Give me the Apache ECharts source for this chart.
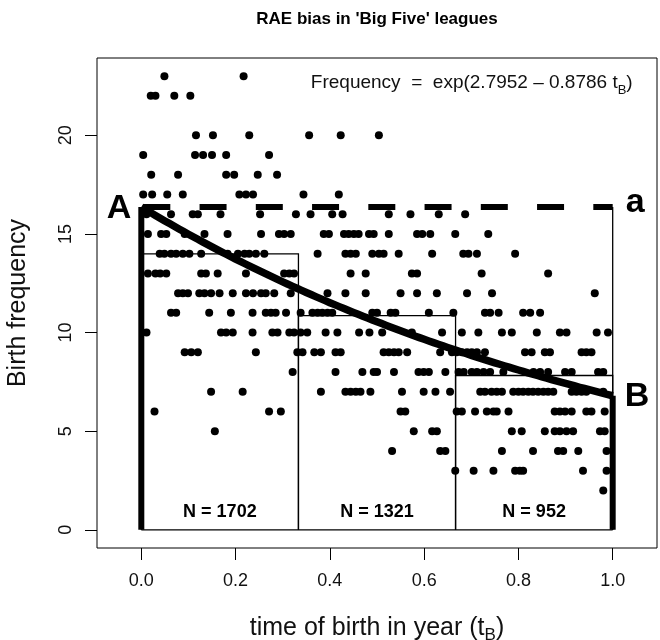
<!DOCTYPE html>
<html><head><meta charset="utf-8">
<script src="https://cdn.jsdelivr.net/npm/echarts@6/dist/echarts.min.js"></script>
<style>html,body{margin:0;padding:0;background:#fff}#c{width:660px;height:640px}</style>
</head><body><div id="c"></div>
<script>
const FONT = "'Liberation Sans', Arial, Helvetica, sans-serif";

// fitted model shown in the chart: Frequency = exp(2.7952 - 0.8786 tB)
const fitIntercept = 2.7952;
const fitSlope = -0.8786;

// thirds of the year and their birth counts
const binEdges = [0, 1/3, 2/3, 1];
const binCounts = [1702, 1321, 952];
const binLabels = ['N = 1702', 'N = 1321', 'N = 952'];
const daysPerBin = 365 / 3;

// axis ticks
const xTicks = [0, 0.2, 0.4, 0.6, 0.8, 1.0];
const yTicks = [0, 5, 10, 15, 20];

// daily birth frequencies: time of birth (tB) for each frequency level
const pts23 = [0.049, 0.217];
const pts22 = [0.020, 0.030, 0.070, 0.104];
const pts20 = [0.116, 0.152, 0.229, 0.356, 0.423, 0.504];
const pts19 = [0.004, 0.114, 0.131, 0.150, 0.180, 0.271];
const pts18 = [0.021, 0.078, 0.180, 0.197, 0.247, 0.288];
const pts17 = [0.004, 0.023, 0.055, 0.088, 0.208, 0.222, 0.237, 0.344, 0.419];
const pts16 = [0.011, 0.063, 0.109, 0.120, 0.168, 0.252, 0.328, 0.359, 0.405, 0.427, 0.525, 0.571, 0.631, 0.687];
const pts15 = [0.014, 0.042, 0.053, 0.092, 0.134, 0.183, 0.254, 0.292, 0.303, 0.317, 0.387, 0.398, 0.430, 0.440, 0.451, 0.461, 0.483, 0.493, 0.525, 0.585, 0.596, 0.613, 0.666, 0.736];
const pts14 = [0.039, 0.049, 0.063, 0.074, 0.088, 0.102, 0.127, 0.183, 0.205, 0.219, 0.229, 0.243, 0.261, 0.374, 0.433, 0.444, 0.455, 0.490, 0.504, 0.514, 0.546, 0.617, 0.683, 0.694, 0.712, 0.793];
const pts13 = [0.014, 0.030, 0.040, 0.053, 0.127, 0.137, 0.162, 0.222, 0.303, 0.314, 0.324, 0.444, 0.476, 0.574, 0.585, 0.722, 0.863];
const pts12 = [0.078, 0.088, 0.099, 0.123, 0.134, 0.148, 0.166, 0.194, 0.222, 0.237, 0.254, 0.264, 0.282, 0.317, 0.395, 0.433, 0.476, 0.550, 0.585, 0.627, 0.691, 0.744, 0.962];
const pts11 = [0.063, 0.074, 0.144, 0.190, 0.236, 0.264, 0.275, 0.285, 0.307, 0.338, 0.363, 0.374, 0.384, 0.395, 0.405, 0.490, 0.500, 0.529, 0.539, 0.610, 0.662, 0.729, 0.740, 0.758, 0.810, 0.825, 0.846];
const pts10 = [0.011, 0.169, 0.180, 0.194, 0.236, 0.278, 0.289, 0.314, 0.324, 0.338, 0.352, 0.391, 0.416, 0.462, 0.484, 0.511, 0.574, 0.638, 0.680, 0.715, 0.765, 0.786, 0.839, 0.888, 0.902, 0.966, 0.990];
const pts9 = [0.092, 0.106, 0.120, 0.243, 0.331, 0.342, 0.367, 0.381, 0.412, 0.423, 0.514, 0.525, 0.536, 0.546, 0.564, 0.634, 0.659, 0.669, 0.680, 0.691, 0.701, 0.712, 0.729, 0.814, 0.828, 0.856, 0.867, 0.934, 0.944, 0.955];
const pts8 = [0.321, 0.412, 0.469, 0.493, 0.500, 0.536, 0.588, 0.599, 0.610, 0.645, 0.673, 0.684, 0.701, 0.712, 0.726, 0.740, 0.768, 0.832, 0.846, 0.863, 0.899, 0.913, 0.969, 0.980];
const pts7 = [0.148, 0.215, 0.381, 0.433, 0.444, 0.455, 0.465, 0.486, 0.553, 0.599, 0.624, 0.655, 0.719, 0.729, 0.743, 0.754, 0.765, 0.789, 0.800, 0.810, 0.821, 0.831, 0.842, 0.853, 0.863, 0.874, 0.913, 0.923, 0.934, 0.944, 0.980];
const pts6 = [0.028, 0.271, 0.296, 0.550, 0.560, 0.669, 0.680, 0.708, 0.733, 0.747, 0.754, 0.779, 0.877, 0.888, 0.899, 0.913, 0.944, 0.955, 0.983];
const pts5 = [0.156, 0.578, 0.617, 0.627, 0.786, 0.807, 0.856, 0.877, 0.888, 0.902, 0.916, 0.973, 0.983];
const pts4 = [0.532, 0.634, 0.645, 0.765, 0.831, 0.884, 0.895, 0.927, 0.987];
const pts3 = [0.666, 0.705, 0.747, 0.793, 0.803, 0.810, 0.937, 0.987];
const pts2 = [0.980];

const rows = [[23, pts23], [22, pts22], [20, pts20], [19, pts19], [18, pts18], [17, pts17], [16, pts16],
  [15, pts15], [14, pts14], [13, pts13], [12, pts12], [11, pts11], [10, pts10], [9, pts9], [8, pts8],
  [7, pts7], [6, pts6], [5, pts5], [4, pts4], [3, pts3], [2, pts2]];
const scatterData = [];
rows.forEach(([f, ts]) => ts.forEach(t => scatterData.push([t, f])));

const model = t => Math.exp(fitIntercept + fitSlope * t);
const fA = model(0), fB = model(1);
const curve = [];
for (let i = 0; i <= 100; i++) { const t = i / 100; curve.push([t, model(t)]); }
const binH = binCounts.map(n => n / daysPerBin);

const thin = { color: '#000', width: 1.3 };
function lineSeries(data, style, z) {
  return { type: 'line', data, showSymbol: false, symbol: 'none', silent: true, z: z || 3,
    lineStyle: Object.assign({ cap: 'butt', join: 'miter', opacity: 1 }, style), animation: false };
}

const chart = echarts.init(document.getElementById('c'), null, { renderer: 'canvas' });
const option = {
  animation: false,
  backgroundColor: '#fff',
  grid: { left: 97, right: 3, top: 58, bottom: 92, containLabel: false, outerBoundsMode: 'none',
    show: true, borderColor: '#000', borderWidth: 1, backgroundColor: 'transparent' },
  xAxis: {
    type: 'value', min: -0.094, max: 1.094,
    axisLine: { show: false, onZero: false }, splitLine: { show: false },
    axisTick: { show: true, inside: false, customValues: xTicks, length: 12, lineStyle: { color: '#000', width: 1 } },
    axisLabel: { customValues: xTicks, formatter: v => v.toFixed(1), fontSize: 18, fontFamily: FONT, color: '#111', margin: 24 },
    name: '{a|time of birth in year (t}{s|B}{a|)}', nameLocation: 'middle', nameGap: 68,
    nameTextStyle: { rich: {
      a: { fontSize: 25, fontFamily: FONT, color: '#111', lineHeight: 28, verticalAlign: 'top' },
      s: { fontSize: 17, fontFamily: FONT, color: '#111', lineHeight: 17, verticalAlign: 'bottom' } } }
  },
  yAxis: {
    type: 'value', min: -0.92, max: 23.92,
    axisLine: { show: false, onZero: false }, splitLine: { show: false },
    axisTick: { show: true, inside: false, customValues: yTicks, length: 12, lineStyle: { color: '#000', width: 1 } },
    axisLabel: { customValues: yTicks, rotate: 90, fontSize: 18, fontFamily: FONT, color: '#111', margin: 22 },
    name: 'Birth frequency', nameLocation: 'middle', nameRotate: 90, nameGap: 66,
    nameTextStyle: { fontSize: 25, fontFamily: FONT, color: '#111' }
  },
  series: [
    { type: 'scatter', data: scatterData, symbol: 'circle', symbolSize: 8, itemStyle: { color: '#000', opacity: 1 }, silent: true, z: 2 },
    lineSeries([[binEdges[0], 0], [binEdges[0], binH[0]], [binEdges[1], binH[0]], [binEdges[1], 0]], thin),
    lineSeries([[binEdges[1], 0], [binEdges[1], binH[1]], [binEdges[2], binH[1]], [binEdges[2], 0]], thin),
    lineSeries([[binEdges[2], 0], [binEdges[2], binH[2]], [binEdges[3], binH[2]], [binEdges[3], 0]], thin),
    lineSeries([[0, 0], [1, 0]], thin),
    lineSeries([[1, 0], [1, fA]], thin),
    lineSeries([[0, fA], [1, fA]], { color: '#000', width: 6, type: [27, 29.25], dashOffset: 54.25 }, 4),
    lineSeries(curve, { color: '#000', width: 7.5, join: 'round' }, 5),
    lineSeries([[0, 0], [0, fA]], { color: '#000', width: 6 }, 5),
    lineSeries([[1, 0], [1, fB]], { color: '#000', width: 6 }, 5)
  ]
};
chart.setOption(option);

const P = (x, y) => chart.convertToPixel({ gridIndex: 0 }, [x, y]);
const pA = P(0, fA), pa = P(1, fA), pB = P(1, fB), p1 = P(1, 0);
const gridCx = (P(-0.094, 0)[0] + P(1.094, 0)[0]) / 2;
const graphics = [
  { type: 'text', x: gridCx, y: 19, style: { text: "RAE bias in 'Big Five' leagues", font: 'bold 17px ' + FONT, fill: '#000', textAlign: 'center', textVerticalAlign: 'middle' } },
  { type: 'text', x: p1[0] + 20, y: 85, style: { text: '{a|Frequency  =  exp(2.7952 \u2013 0.8786 t}{s|B}{a|)}', textAlign: 'right', textVerticalAlign: 'middle',
      rich: { a: { fontSize: 19, fontFamily: FONT, fill: '#111', lineHeight: 23, verticalAlign: 'top' },
              s: { fontSize: 13, fontFamily: FONT, fill: '#111', lineHeight: 13, verticalAlign: 'bottom' } } } },
  { type: 'text', x: pA[0] - 10, y: pA[1] + 2, style: { text: 'A', font: 'bold 34px ' + FONT, fill: '#000', textAlign: 'right', textVerticalAlign: 'middle' } },
  { type: 'text', x: pa[0] + 13, y: pa[1] - 4, style: { text: 'a', font: 'bold 34px ' + FONT, fill: '#000', textAlign: 'left', textVerticalAlign: 'middle' } },
  { type: 'text', x: pB[0] + 12, y: pB[1] + 1, style: { text: 'B', font: 'bold 34px ' + FONT, fill: '#000', textAlign: 'left', textVerticalAlign: 'middle' } }
];
binLabels.forEach((lab, i) => {
  const c = P((binEdges[i] + binEdges[i + 1]) / 2, 0);
  graphics.push({ type: 'text', x: c[0], y: c[1] - 18, style: { text: lab, font: 'bold 18px ' + FONT, fill: '#000', textAlign: 'center', textVerticalAlign: 'middle' } });
});
chart.setOption({ graphic: graphics });
</script></body></html>
